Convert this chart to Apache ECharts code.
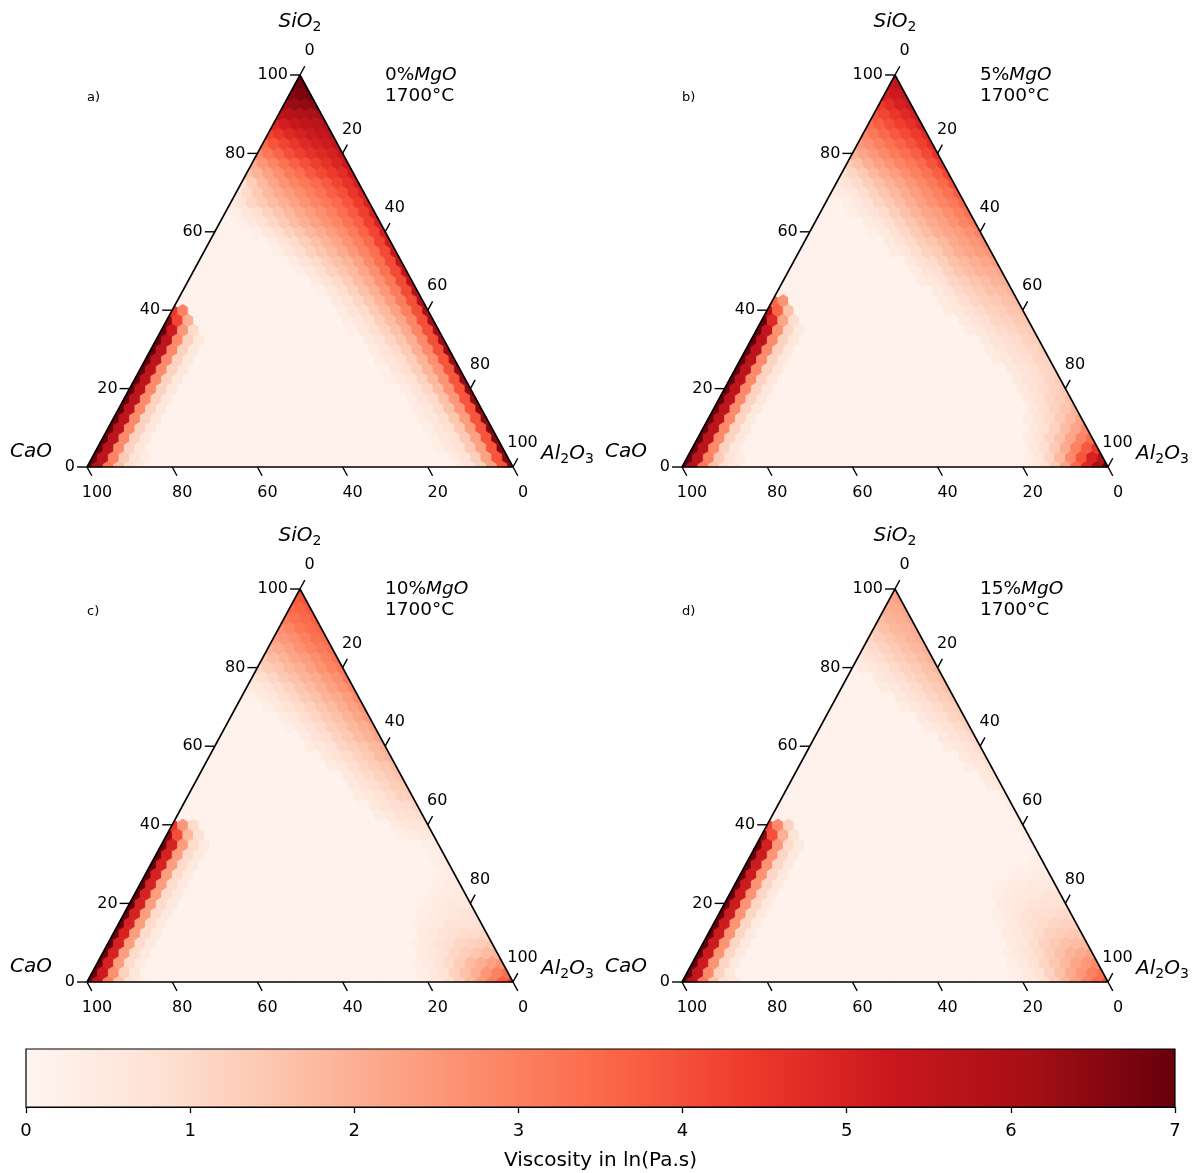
<!DOCTYPE html>
<html>
<head>
<meta charset="utf-8">
<script src="https://cdn.jsdelivr.net/npm/echarts@6/dist/echarts.min.js"></script>
<style>
  html, body { margin: 0; padding: 0; background: #fff; }
  #main { width: 1199px; height: 1173px; }
</style>
</head>
<body>
<div id="main"></div>
<script>
// lattice: N steps per side (2.5 %)
var N = 40;
var tickLabels = [0, 20, 40, 60, 80, 100];
var cbTicks = [0, 1, 2, 3, 4, 5, 6, 7];
var mgoLabels = ['0%', '5%', '10%', '15%'];
var panelLetters = ['a)', 'b)', 'c)', 'd)'];
var temperature = '1700°C';
var baseValue = [0.15, 0.15, 0.15, 0.15];

// viscosity along CaO-SiO2 edge, rows bottom-up (SiO2 = k*2.5%), values from the edge inwards (Al2O3 = i*2.5%)
var leftA = [
  [7.0, 5.8, 3.2, 1.6, 0.9, 0.5],
  [7.0, 5.6, 3.0, 1.4, 0.7, 0.4],
  [7.0, 5.6, 2.8, 1.2, 0.6],
  [7.0, 5.6, 2.8, 1.2, 0.6],
  [7.0, 5.6, 2.8, 1.2, 0.6],
  [7.0, 5.6, 2.8, 1.2, 0.6],
  [7.0, 5.6, 2.8, 1.2, 0.6],
  [7.0, 5.6, 2.8, 1.2, 0.6],
  [7.0, 5.6, 2.8, 1.2, 0.6],
  [7.0, 5.6, 2.8, 1.2, 0.6],
  [7.0, 5.6, 2.8, 1.2, 0.6],
  [7.0, 5.6, 2.8, 1.2, 0.6],
  [7.0, 5.6, 2.8, 1.2, 0.6],
  [7.0, 5.6, 2.8, 1.2, 0.6],
  [7.0, 5.2, 2.5, 1.0],
  [6.5, 4.2, 2.0],
  [4.5, 3.0]
];
// viscosity along SiO2-Al2O3 edge, rows bottom-up, values from the edge inwards (CaO = j*2.5%)
var rightA = [
  [6.6, 3.9, 2.3, 1.3, 0.7, 0.4],
  [6.6, 3.9, 2.3, 1.3, 0.7, 0.4],
  [6.6, 3.9, 2.3, 1.4, 0.8, 0.5, 0.3],
  [6.6, 3.9, 2.3, 1.4, 0.8, 0.5, 0.3],
  [6.6, 3.9, 2.4, 1.5, 0.9, 0.6, 0.3],
  [6.5, 3.9, 2.4, 1.5, 0.9, 0.6, 0.4],
  [6.5, 3.9, 2.5, 1.6, 1.0, 0.6, 0.4],
  [6.5, 3.9, 2.5, 1.6, 1.0, 0.7, 0.4],
  [6.5, 3.9, 2.6, 1.7, 1.1, 0.7, 0.4],
  [6.4, 3.9, 2.6, 1.8, 1.2, 0.8, 0.5, 0.3],
  [6.4, 3.9, 2.6, 1.9, 1.3, 0.9, 0.6, 0.3],
  [6.3, 3.9, 2.7, 1.9, 1.3, 0.9, 0.6, 0.4],
  [6.3, 4.0, 2.8, 2.0, 1.4, 1.0, 0.7, 0.4],
  [6.2, 4.0, 2.8, 2.0, 1.5, 1.1, 0.8, 0.5],
  [6.2, 4.0, 2.9, 2.1, 1.6, 1.2, 0.9, 0.6, 0.3],
  [6.1, 4.0, 2.9, 2.2, 1.7, 1.3, 0.9, 0.6, 0.4],
  [6.0, 4.0, 3.0, 2.3, 1.8, 1.4, 1.0, 0.7, 0.4],
  [5.9, 4.0, 3.1, 2.4, 1.9, 1.5, 1.1, 0.8, 0.5],
  [5.8, 4.1, 3.1, 2.5, 2.0, 1.6, 1.2, 0.9, 0.6, 0.3],
  [5.6, 4.1, 3.2, 2.6, 2.1, 1.7, 1.3, 1.0, 0.7, 0.4],
  [5.5, 4.1, 3.3, 2.7, 2.2, 1.8, 1.5, 1.2, 0.9, 0.6, 0.3],
  [5.4, 4.1, 3.4, 2.8, 2.3, 1.9, 1.6, 1.3, 1.0, 0.7, 0.4],
  [5.3, 4.1, 3.4, 2.9, 2.5, 2.1, 1.8, 1.5, 1.2, 0.9, 0.6, 0.3],
  [5.2, 4.2, 3.5, 3.0, 2.6, 2.2, 1.9, 1.6, 1.3, 1.0, 0.7, 0.4],
  [5.1, 4.2, 3.6, 3.1, 2.7, 2.4, 2.1, 1.8, 1.5, 1.2, 0.9, 0.6, 0.3],
  [5.0, 4.3, 3.7, 3.3, 2.9, 2.6, 2.3, 2.0, 1.7, 1.4, 1.1, 0.8, 0.5, 0.3],
  [5.0, 4.3, 3.8, 3.4, 3.0, 2.7, 2.4, 2.1, 1.8, 1.5, 1.2, 0.9, 0.6, 0.3],
  [5.0, 4.4, 3.9, 3.5, 3.2, 2.9, 2.6, 2.3, 2.0, 1.7, 1.4, 1.1, 0.7, 0.4],
  [5.0, 4.5, 4.0, 3.7, 3.3, 3.0, 2.7, 2.4, 2.1, 1.8, 1.4, 1.0, 0.5],
  [5.1, 4.6, 4.2, 3.8, 3.5, 3.2, 2.9, 2.6, 2.2, 1.8, 1.3, 0.8],
  [5.2, 4.7, 4.4, 4.1, 3.8, 3.4, 3.1, 2.7, 2.3, 1.9, 1.5],
  [5.3, 4.9, 4.6, 4.3, 4.0, 3.7, 3.3, 2.9, 2.5, 2.1],
  [5.4, 5.0, 4.8, 4.6, 4.3, 4.0, 3.6, 3.2, 2.8],
  [5.5, 5.2, 5.0, 4.8, 4.5, 4.2, 3.9, 3.5],
  [5.6, 5.4, 5.2, 5.0, 4.8, 4.5, 4.2],
  [5.8, 5.6, 5.5, 5.3, 5.1, 4.9],
  [6.1, 5.9, 5.8, 5.7, 5.6],
  [6.5, 6.4, 6.3, 6.2],
  [6.8, 6.7, 6.6],
  [6.9, 6.8],
  [7.0]
];

var leftB = [
  [7.0, 5.8, 3.2, 1.6, 0.9, 0.5],
  [7.0, 5.6, 3.0, 1.4, 0.7, 0.4],
  [7.0, 5.6, 2.8, 1.2, 0.6],
  [7.0, 5.6, 2.8, 1.2, 0.6],
  [7.0, 5.6, 2.8, 1.2, 0.6],
  [7.0, 5.6, 2.8, 1.2, 0.6],
  [7.0, 5.6, 2.8, 1.2, 0.6],
  [7.0, 5.6, 2.8, 1.2, 0.6],
  [7.0, 5.6, 2.8, 1.2, 0.6],
  [7.0, 5.6, 2.8, 1.2, 0.6],
  [7.0, 5.6, 2.8, 1.2, 0.6],
  [7.0, 5.6, 2.8, 1.2, 0.6],
  [7.0, 5.6, 2.8, 1.2, 0.6],
  [7.0, 5.6, 2.8, 1.2, 0.6],
  [7.0, 5.4, 2.6, 1.1, 0.5],
  [7.0, 4.8, 2.2, 0.9],
  [5.8, 3.6, 1.6],
  [3.6, 2.6]
];
var rightB = [
  [7.0, 6.0, 4.8, 3.5, 2.3, 1.4, 0.8, 0.4],
  [5.8, 5.0, 3.9, 2.8, 1.8, 1.1, 0.6, 0.3],
  [4.5, 3.8, 3.0, 2.1, 1.4, 0.9, 0.5],
  [3.5, 2.9, 2.2, 1.6, 1.1, 0.7, 0.4],
  [2.8, 2.2, 1.7, 1.2, 0.8, 0.5],
  [2.3, 1.8, 1.4, 1.0, 0.7, 0.4],
  [1.9, 1.5, 1.2, 0.9, 0.6],
  [1.6, 1.3, 1.1, 0.8, 0.5],
  [1.4, 1.2, 1.0, 0.8, 0.5],
  [1.3, 1.1, 0.9, 0.7, 0.5],
  [1.2, 1.1, 0.9, 0.7, 0.5],
  [1.2, 1.1, 0.9, 0.8, 0.6, 0.4],
  [1.3, 1.1, 1.0, 0.8, 0.6, 0.4],
  [1.3, 1.2, 1.0, 0.9, 0.7, 0.5],
  [1.4, 1.3, 1.1, 1.0, 0.8, 0.6, 0.4],
  [1.5, 1.4, 1.2, 1.1, 0.9, 0.7, 0.5],
  [1.6, 1.5, 1.3, 1.2, 1.0, 0.8, 0.6, 0.4],
  [1.7, 1.6, 1.4, 1.3, 1.1, 0.9, 0.6, 0.4],
  [1.9, 1.7, 1.6, 1.4, 1.2, 1.0, 0.7, 0.5],
  [2.0, 1.9, 1.7, 1.5, 1.3, 1.1, 0.8, 0.6, 0.4],
  [2.2, 2.0, 1.9, 1.7, 1.5, 1.2, 0.9, 0.7, 0.4],
  [2.4, 2.2, 2.0, 1.8, 1.6, 1.3, 1.0, 0.8, 0.5],
  [2.6, 2.4, 2.2, 2.0, 1.7, 1.4, 1.2, 0.9, 0.6, 0.4],
  [2.8, 2.5, 2.3, 2.1, 1.8, 1.5, 1.3, 1.0, 0.7, 0.5],
  [3.0, 2.7, 2.4, 2.2, 2.0, 1.7, 1.4, 1.1, 0.8, 0.5, 0.3],
  [3.2, 2.9, 2.6, 2.3, 2.1, 1.8, 1.5, 1.2, 0.9, 0.6, 0.4],
  [3.4, 3.0, 2.7, 2.4, 2.2, 1.9, 1.6, 1.3, 1.0, 0.7, 0.5, 0.3],
  [3.6, 3.2, 2.9, 2.6, 2.3, 2.0, 1.7, 1.4, 1.1, 0.8, 0.5, 0.3],
  [3.8, 3.3, 3.0, 2.7, 2.4, 2.1, 1.8, 1.5, 1.2, 0.9, 0.6, 0.4, 0.3],
  [4.0, 3.5, 3.1, 2.8, 2.5, 2.2, 1.9, 1.6, 1.3, 1.0, 0.7, 0.5],
  [4.2, 3.7, 3.3, 3.0, 2.7, 2.4, 2.1, 1.8, 1.4, 1.1, 0.8],
  [4.4, 3.9, 3.5, 3.2, 2.9, 2.6, 2.3, 2.0, 1.6, 1.3],
  [4.6, 4.1, 3.7, 3.4, 3.1, 2.8, 2.5, 2.2, 1.9],
  [4.7, 4.3, 3.9, 3.6, 3.3, 3.0, 2.7, 2.4],
  [4.8, 4.4, 4.1, 3.8, 3.5, 3.2, 2.9],
  [5.0, 4.6, 4.3, 4.0, 3.7, 3.4],
  [5.1, 4.8, 4.5, 4.2, 3.9],
  [5.3, 5.0, 4.7, 4.4],
  [5.4, 5.2, 5.0],
  [5.5, 5.3],
  [5.6]
];

var leftC = [
  [7.0, 5.4, 3.0, 1.5, 0.8, 0.5],
  [7.0, 5.2, 2.7, 1.2, 0.6],
  [7.0, 5.0, 2.4, 1.0, 0.5],
  [7.0, 5.0, 2.4, 1.0, 0.5],
  [7.0, 5.0, 2.4, 1.0, 0.5],
  [7.0, 5.0, 2.4, 1.0, 0.5],
  [7.0, 5.0, 2.4, 1.0, 0.5],
  [7.0, 5.0, 2.4, 1.0, 0.5],
  [7.0, 5.0, 2.4, 1.0, 0.5],
  [7.0, 5.0, 2.4, 1.0, 0.5],
  [7.0, 5.0, 2.4, 1.0, 0.5],
  [7.0, 5.0, 2.4, 1.0, 0.5],
  [7.0, 5.0, 2.4, 1.0, 0.5],
  [7.0, 5.0, 2.4, 1.0, 0.5],
  [7.0, 5.0, 2.4, 1.0, 0.5],
  [6.5, 4.0, 1.8, 0.8],
  [4.5, 2.5, 1.0]
];
var rightC = [
  [4.3, 3.7, 3.0, 2.4, 1.8, 1.3, 0.9, 0.6, 0.4],
  [3.4, 3.0, 2.5, 2.0, 1.6, 1.2, 0.8, 0.5, 0.3],
  [2.6, 2.3, 2.0, 1.7, 1.3, 1.0, 0.7, 0.5, 0.3],
  [1.9, 1.7, 1.5, 1.3, 1.1, 0.8, 0.6, 0.4],
  [1.4, 1.3, 1.2, 1.1, 0.9, 0.7, 0.5, 0.3],
  [1.1, 1.0, 1.0, 0.9, 0.7, 0.5, 0.4],
  [0.9, 0.8, 0.8, 0.7, 0.5, 0.4, 0.3],
  [0.7, 0.7, 0.6, 0.5, 0.4, 0.3],
  [0.6, 0.5, 0.5, 0.4, 0.3],
  [0.5, 0.4, 0.4, 0.3],
  [0.4, 0.4, 0.3],
  [0.4, 0.3],
  [0.4, 0.3],
  [0.4, 0.3],
  [0.4, 0.3],
  [0.6, 0.5, 0.4, 0.3],
  [0.8, 0.7, 0.6, 0.4],
  [1.0, 0.9, 0.8, 0.6, 0.4],
  [1.1, 1.0, 0.9, 0.7, 0.5],
  [1.3, 1.2, 1.0, 0.8, 0.6, 0.4],
  [1.4, 1.3, 1.1, 0.9, 0.7, 0.5],
  [1.6, 1.4, 1.2, 1.0, 0.8, 0.5],
  [1.7, 1.5, 1.3, 1.1, 0.9, 0.6, 0.4],
  [1.9, 1.7, 1.4, 1.2, 1.0, 0.7, 0.5],
  [2.0, 1.8, 1.5, 1.3, 1.1, 0.8, 0.6, 0.4],
  [2.2, 1.9, 1.7, 1.4, 1.2, 0.9, 0.7, 0.4],
  [2.3, 2.0, 1.8, 1.5, 1.3, 1.0, 0.8, 0.5, 0.3],
  [2.5, 2.2, 1.9, 1.6, 1.4, 1.1, 0.9, 0.6, 0.4],
  [2.6, 2.3, 2.0, 1.7, 1.5, 1.2, 1.0, 0.7, 0.5, 0.3],
  [2.8, 2.4, 2.1, 1.9, 1.6, 1.4, 1.1, 0.9, 0.6, 0.4],
  [2.9, 2.6, 2.3, 2.0, 1.7, 1.5, 1.2, 1.0, 0.7, 0.5, 0.4],
  [3.1, 2.7, 2.4, 2.1, 1.9, 1.6, 1.4, 1.1, 0.9, 0.7],
  [3.2, 2.9, 2.6, 2.3, 2.0, 1.8, 1.5, 1.3, 1.1],
  [3.3, 3.0, 2.7, 2.4, 2.2, 1.9, 1.7, 1.5],
  [3.4, 3.1, 2.9, 2.6, 2.3, 2.1, 1.9],
  [3.5, 3.3, 3.0, 2.7, 2.5, 2.3],
  [3.6, 3.4, 3.2, 2.9, 2.7],
  [3.7, 3.5, 3.3, 3.1],
  [3.8, 3.6, 3.5],
  [3.9, 3.8],
  [4.0]
];

var leftD = [
  [7.0, 5.6, 3.1, 1.5, 0.8, 0.5],
  [7.0, 5.4, 2.8, 1.2, 0.6],
  [7.0, 5.2, 2.6, 1.1, 0.5],
  [7.0, 5.2, 2.6, 1.1, 0.5],
  [7.0, 5.2, 2.6, 1.1, 0.5],
  [7.0, 5.2, 2.6, 1.1, 0.5],
  [7.0, 5.2, 2.6, 1.1, 0.5],
  [7.0, 5.2, 2.6, 1.1, 0.5],
  [7.0, 5.2, 2.6, 1.1, 0.5],
  [7.0, 5.2, 2.6, 1.1, 0.5],
  [7.0, 5.2, 2.6, 1.1, 0.5],
  [7.0, 5.2, 2.6, 1.1, 0.5],
  [7.0, 5.2, 2.6, 1.1, 0.5],
  [7.0, 5.2, 2.6, 1.1, 0.5],
  [7.0, 5.0, 2.5, 1.0, 0.5],
  [6.5, 4.0, 2.0, 0.8],
  [4.2, 2.8, 1.2]
];
var rightD = [
  [4.1, 3.5, 2.9, 2.3, 1.8, 1.3, 0.9, 0.6, 0.4],
  [3.4, 3.0, 2.5, 2.1, 1.6, 1.2, 0.8, 0.5, 0.3],
  [2.8, 2.5, 2.2, 1.8, 1.5, 1.1, 0.8, 0.5, 0.3],
  [2.3, 2.1, 1.9, 1.6, 1.3, 1.0, 0.7, 0.5, 0.3],
  [1.8, 1.7, 1.6, 1.4, 1.2, 0.9, 0.6, 0.4],
  [1.5, 1.4, 1.3, 1.2, 1.0, 0.8, 0.6, 0.4],
  [1.2, 1.2, 1.1, 1.0, 0.9, 0.7, 0.5, 0.3],
  [1.0, 1.0, 0.9, 0.9, 0.8, 0.6, 0.4, 0.3],
  [0.8, 0.8, 0.8, 0.7, 0.6, 0.5, 0.4],
  [0.7, 0.7, 0.6, 0.6, 0.5, 0.4, 0.3],
  [0.5, 0.5, 0.5, 0.4, 0.4, 0.3],
  [0.4, 0.4, 0.3, 0.3],
  [0.3, 0.3],
  [0.3],
  [0.3],
  [0.3],
  [0.3],
  [0.3],
  [0.4],
  [0.4],
  [0.6, 0.4],
  [0.7, 0.5],
  [0.8, 0.6, 0.4],
  [0.9, 0.7, 0.5],
  [1.0, 0.8, 0.6, 0.4],
  [1.1, 0.9, 0.7, 0.5],
  [1.2, 1.0, 0.8, 0.6, 0.4],
  [1.3, 1.1, 0.9, 0.7, 0.5],
  [1.4, 1.2, 1.0, 0.8, 0.6, 0.4],
  [1.5, 1.3, 1.1, 0.9, 0.7, 0.5],
  [1.6, 1.4, 1.2, 1.0, 0.8, 0.6, 0.4],
  [1.7, 1.5, 1.3, 1.1, 0.9, 0.7, 0.5],
  [1.8, 1.6, 1.4, 1.2, 1.0, 0.8, 0.6, 0.4],
  [1.9, 1.7, 1.5, 1.3, 1.1, 0.9, 0.7, 0.5],
  [2.0, 1.8, 1.6, 1.4, 1.2, 1.0, 0.8],
  [2.0, 1.9, 1.7, 1.5, 1.3, 1.1],
  [2.1, 1.9, 1.8, 1.6, 1.4],
  [2.2, 2.0, 1.9, 1.7],
  [2.2, 2.1, 2.0],
  [2.3, 2.2],
  [2.3]
];

var redsColors = ['#fff5f0', '#fee0d2', '#fcbba1', '#fc9272', '#fb6a4a', '#ef3b2c', '#cb181d', '#a50f15', '#67000d'];
var FONT = 'DejaVu Sans';

var panels = [
  { left: 87, top: 75, width: 426, height: 392, l: leftA, r: rightA },
  { left: 682, top: 75, width: 426, height: 392, l: leftB, r: rightB },
  { left: 87, top: 589, width: 426, height: 393, l: leftC, r: rightC },
  { left: 682, top: 589, width: 426, height: 393, l: leftD, r: rightD }
];

function buildCells(left, right, base) {
  var out = [];
  for (var k = 0; k <= N; k++) {
    var n = N - k;
    for (var i = 0; i <= n; i++) {
      var j = n - i;
      var v = base;
      if (left[k] && i < left[k].length) v = Math.max(v, left[k][i]);
      if (right[k] && j < right[k].length) v = Math.max(v, right[k][j]);
      out.push([(i + k / 2) / N, k / N, v]);
    }
  }
  return out;
}

// clip a polygon given in barycentric (c, s, a) to the triangle
function clipTri(pts) {
  for (var d = 0; d < 3; d++) {
    var out = [];
    for (var i = 0; i < pts.length; i++) {
      var cur = pts[i], prev = pts[(i + pts.length - 1) % pts.length];
      var cin = cur[d] >= -1e-9, pin = prev[d] >= -1e-9;
      if (cin !== pin) {
        var t = prev[d] / (prev[d] - cur[d]);
        out.push([prev[0] + t * (cur[0] - prev[0]), prev[1] + t * (cur[1] - prev[1]), prev[2] + t * (cur[2] - prev[2])]);
      }
      if (cin) out.push(cur);
    }
    pts = out;
  }
  return pts;
}

var hexOffsets = [[2, -1, -1], [1, 1, -2], [-1, 2, -1], [-2, 1, 1], [-1, -1, 2], [1, -2, 1]];

function renderCell(params, api) {
  var x = api.value(0), s = api.value(1);
  var a = x - s / 2, c = 1 - s - a;
  var h = 1 / N / 3;
  var pts = hexOffsets.map(function (o) { return [c + o[0] * h, s + o[1] * h, a + o[2] * h]; });
  pts = clipTri(pts);
  var pix = pts.map(function (p) { return api.coord([p[2] + p[1] / 2, p[1]]); });
  var color = api.visual('color');
  return { type: 'polygon', shape: { points: pix }, style: { fill: color, stroke: color, lineWidth: 0.7 } };
}

function renderTicks(params, api) {
  var f = api.value(0), lab = String(api.value(2));
  var o = api.coord([0, 0]), r = api.coord([1, 0]), t = api.coord([0.5, 1]);
  var lx = t[0] - o[0], ly = t[1] - o[1], ll = Math.sqrt(lx * lx + ly * ly);
  var up = [lx / ll, ly / ll];
  var rx = r[0] - t[0], ry = r[1] - t[1], rl = Math.sqrt(rx * rx + ry * ry);
  var down = [rx / rl, ry / rl];
  var L = 10;
  var pL = api.coord([f / 2, f]);
  var pR = api.coord([(1 + f) / 2, 1 - f]);
  var pB = api.coord([1 - f, 0]);
  var ls = { stroke: '#000', lineWidth: 1.4 };
  function txt(x, y, align) {
    return { type: 'text', x: x, y: y, style: { text: lab, fill: '#000', fontSize: 16, fontFamily: FONT, align: align, verticalAlign: 'middle' } };
  }
  return {
    type: 'group',
    children: [
      { type: 'line', shape: { x1: pL[0], y1: pL[1], x2: pL[0] - L, y2: pL[1] }, style: ls },
      txt(pL[0] - 12, pL[1], 'right'),
      { type: 'line', shape: { x1: pR[0], y1: pR[1], x2: pR[0] + up[0] * L, y2: pR[1] + up[1] * L }, style: ls },
      txt(pR[0] + 9.5, pR[1] - 24, 'center'),
      { type: 'line', shape: { x1: pB[0], y1: pB[1], x2: pB[0] + down[0] * L, y2: pB[1] + down[1] * L }, style: ls },
      txt(pB[0] + 10, pB[1] + 26, 'center')
    ]
  };
}

function renderColorbar(params, api) {
  var p0 = api.coord([api.value(0), api.value(3)]);
  var p1 = api.coord([api.value(2), api.value(1)]);
  var stops = redsColors.map(function (c, i) { return { offset: i / (redsColors.length - 1), color: c }; });
  return {
    type: 'rect',
    shape: { x: p0[0], y: p0[1], width: p1[0] - p0[0], height: p1[1] - p0[1] },
    style: { fill: new echarts.graphic.LinearGradient(0, 0, 1, 0, stops), stroke: '#000', lineWidth: 1.2 }
  };
}

var grids = [], xAxes = [], yAxes = [], cellSeries = [], otherSeries = [], texts = [];
panels.forEach(function (p, idx) {
  grids.push({ left: p.left, top: p.top, width: p.width, height: p.height });
  xAxes.push({ type: 'value', gridIndex: idx, min: 0, max: 1, show: false });
  yAxes.push({ type: 'value', gridIndex: idx, min: 0, max: 1, show: false });
  cellSeries.push({
    type: 'custom', xAxisIndex: idx, yAxisIndex: idx, clip: false, silent: true,
    renderItem: renderCell, data: buildCells(p.l, p.r, baseValue[idx]), z: 1
  });
  otherSeries.push({
    type: 'line', xAxisIndex: idx, yAxisIndex: idx, clip: false, silent: true, symbol: 'none',
    data: [[0, 0], [1, 0], [0.5, 1], [0, 0]], lineStyle: { color: '#000', width: 1.6 }, z: 5
  });
  otherSeries.push({
    type: 'custom', xAxisIndex: idx, yAxisIndex: idx, clip: false, silent: true,
    renderItem: renderTicks, data: tickLabels.map(function (v) { return [v / 100, 0, v]; }), z: 6
  });
  var bottom = p.top + p.height, right = p.left + p.width;
  var richMain = {
    m: { fontSize: 20, fontStyle: 'italic', fontFamily: FONT, color: '#000' },
    n: { fontSize: 20, fontFamily: FONT, color: '#000' },
    s: { fontSize: 14, fontFamily: FONT, color: '#000', padding: [10, 0, 0, 0] }
  };
  texts.push({ type: 'text', x: p.left + p.width / 2, y: p.top - 53,
    style: { text: '{m|SiO}{s|2}', rich: richMain, align: 'center', verticalAlign: 'middle', textAlign: 'center', textVerticalAlign: 'middle' } });
  texts.push({ type: 'text', x: p.left - 56, y: bottom - 15,
    style: { text: '{m|CaO}', rich: richMain, align: 'center', verticalAlign: 'middle', textAlign: 'center', textVerticalAlign: 'middle' } });
  texts.push({ type: 'text', x: right + 28, y: bottom - 13,
    style: { text: '{m|Al}{s|2}{m|O}{s|3}', rich: richMain, align: 'left', verticalAlign: 'middle', textAlign: 'left', textVerticalAlign: 'middle' } });
  texts.push({ type: 'text', x: p.left + 298, y: p.top,
    style: { text: '{n|' + mgoLabels[idx] + '}{m|MgO}', rich: {
      m: { fontSize: 18.5, fontStyle: 'italic', fontFamily: FONT, color: '#000' },
      n: { fontSize: 18.5, fontFamily: FONT, color: '#000' } },
      align: 'left', verticalAlign: 'middle', textAlign: 'left', textVerticalAlign: 'middle' } });
  texts.push({ type: 'text', x: p.left + 298, y: p.top + 21,
    style: { text: temperature, fontSize: 18.5, fontFamily: FONT, fill: '#000', align: 'left', verticalAlign: 'middle', textAlign: 'left', textVerticalAlign: 'middle' } });
  texts.push({ type: 'text', x: p.left, y: p.top + 23,
    style: { text: panelLetters[idx], fontSize: 13, fontFamily: FONT, fill: '#000', align: 'left', verticalAlign: 'middle', textAlign: 'left', textVerticalAlign: 'middle' } });
});

// colorbar grid
grids.push({ left: 26, top: 1049, width: 1149, height: 58 });
xAxes.push({
  type: 'value', gridIndex: 4, min: cbTicks[0], max: cbTicks[cbTicks.length - 1], interval: 1,
  position: 'bottom',
  axisLine: { show: true, lineStyle: { color: '#000', width: 1.2 } },
  axisTick: { show: true, length: 6, lineStyle: { color: '#000', width: 1.3 } },
  axisLabel: { fontSize: 18, fontFamily: FONT, color: '#000', margin: 15 },
  splitLine: { show: false },
  name: 'Viscosity in ln(Pa.s)', nameLocation: 'middle', nameGap: 44,
  nameTextStyle: { fontSize: 20, fontFamily: FONT, color: '#000' }
});
yAxes.push({ type: 'value', gridIndex: 4, min: 0, max: 1, show: false });
otherSeries.push({
  type: 'custom', xAxisIndex: 4, yAxisIndex: 4, clip: false, silent: true,
  renderItem: renderColorbar, data: [[cbTicks[0], 0, cbTicks[cbTicks.length - 1], 1]], z: 2
});

var chart = echarts.init(document.getElementById('main'), null, { renderer: 'canvas' });
var option = {
  backgroundColor: '#fff',
  animation: false,
  grid: grids,
  xAxis: xAxes,
  yAxis: yAxes,
  visualMap: {
    show: false, type: 'continuous', min: 0, max: 7, dimension: 2,
    seriesIndex: [0, 1, 2, 3],
    inRange: { color: redsColors }
  },
  graphic: texts,
  series: cellSeries.concat(otherSeries)
};
chart.setOption(option);
</script>
</body>
</html>
